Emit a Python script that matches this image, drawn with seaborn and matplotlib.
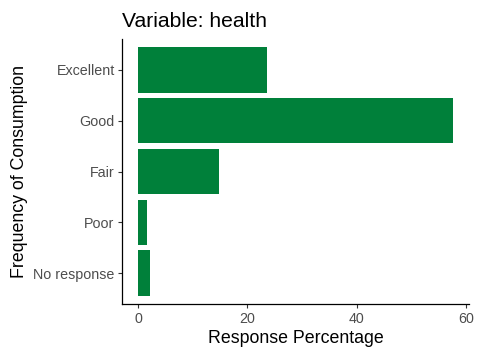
import pandas as pd
import matplotlib
matplotlib.use("Agg")
import matplotlib.pyplot as plt
import seaborn as sns

# data
categories = ["Excellent", "Good", "Fair", "Poor", "No response"]
percentages = [23.65, 57.76, 14.72, 1.59, 2.13]

df = pd.DataFrame({"category": categories, "pct": percentages})

sns.set_theme(style="ticks")
plt.rcParams["font.family"] = ["Liberation Sans", "DejaVu Sans"]

fig = plt.figure(figsize=(4.8, 3.6), dpi=100)
ax = fig.add_axes([122.3 / 480, 56 / 360, (469 - 122.3) / 480, (304 - 39) / 360])

sns.barplot(data=df, x="pct", y="category", order=categories,
            color="#00803A", saturation=1, width=0.9, linewidth=0, ax=ax)

ax.set_xlim(-2.9, 60.6)
ax.set_ylim(4.6, -0.6)
ax.set_xticks([0, 20, 40, 60])

ax.set_title("Variable: health", loc="left", fontsize=15.2, color="black", pad=8.5)
ax.set_xlabel("Response Percentage", fontsize=12.8, color="black", labelpad=3)
ax.set_ylabel("Frequency of Consumption", fontsize=12.8, color="black", labelpad=4)
ax.tick_params(axis="both", labelsize=10.3, labelcolor="#4D4D4D", color="#333333",
               length=3, width=0.8, pad=2.5)

for side in ["top", "right"]:
    ax.spines[side].set_visible(False)
for side in ["left", "bottom"]:
    ax.spines[side].set_color("black")
    ax.spines[side].set_linewidth(0.9)

fig.savefig("out.png", dpi=100)
